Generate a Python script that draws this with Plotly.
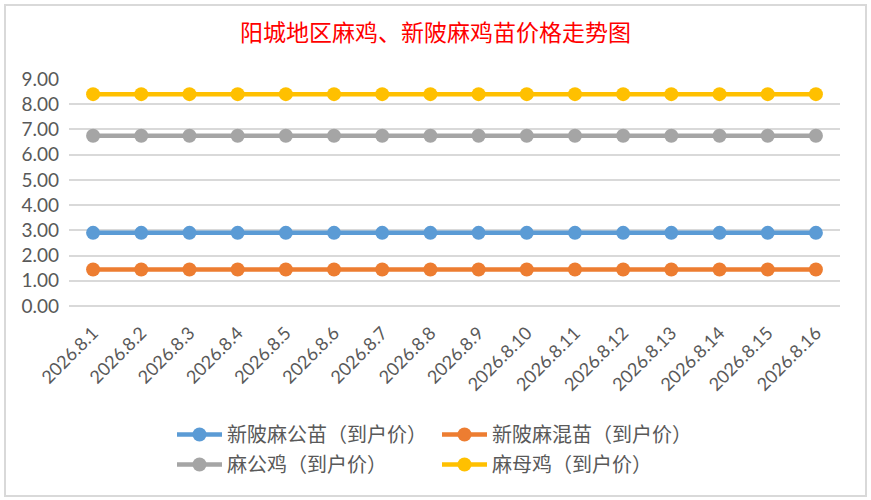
import plotly.graph_objects as go

dates = ["2026.8.%d" % d for d in range(1, 17)]
xin_gong = [2.9] * 16      # 新陂麻公苗（到户价）
xin_hun = [1.45] * 16      # 新陂麻混苗（到户价）
ma_gong = [6.75] * 16      # 麻公鸡（到户价）
ma_mu = [8.4] * 16         # 麻母鸡（到户价）
y_ticks = [0, 1, 2, 3, 4, 5, 6, 7, 8, 9]

series = [
    ("新陂麻公苗（到户价）", xin_gong, "#5B9BD5", "legend"),
    ("新陂麻混苗（到户价）", xin_hun, "#ED7D31", "legend"),
    ("麻公鸡（到户价）", ma_gong, "#A5A5A5", "legend2"),
    ("麻母鸡（到户价）", ma_mu, "#FFC000", "legend2"),
]

fig = go.Figure()
for name, vals, color, lg in series:
    fig.add_trace(go.Scatter(
        x=dates, y=vals, name=name, mode="lines+markers",
        line=dict(color=color, width=4.5),
        marker=dict(color=color, size=14),
        legend=lg,
    ))

font_cjk = "Noto Sans CJK SC, sans-serif"
font_num = "Lato, Open Sans, sans-serif"
PL, PR, PT, PB = 69, 840, 79, 306
PW, PH = PR - PL, PB - PT

def px_x(x):
    return (x - PL) / PW

def px_y(y):
    return (PB - y) / PH

fig.update_layout(
    width=871, height=500,
    paper_bgcolor="white", plot_bgcolor="white",
    margin=dict(l=PL, r=871 - PR, t=PT, b=500 - PB, autoexpand=False),
    title=dict(text="阳城地区麻鸡、新陂麻鸡苗价格走势图", x=0.5, xanchor="center",
               y=1 - 33 / 500, yanchor="middle",
               font=dict(family=font_cjk, size=23, color="#FF0000")),
    xaxis=dict(type="category", range=[-0.5, len(dates) - 0.5],
               showgrid=False, showline=False, ticks="",
               automargin=False, ticklabelstandoff=12,
               tickangle=-45, tickfont=dict(family=font_num, size=18, color="#595959"),
               fixedrange=True),
    yaxis=dict(range=[0, 9], tickvals=y_ticks, tickformat=".2f",
               automargin=False, ticklabelstandoff=9,
               showgrid=True, gridcolor="#D9D9D9", gridwidth=1.5,
               zeroline=True, zerolinecolor="#D9D9D9", zerolinewidth=1.5,
               showline=False, ticks="",
               tickfont=dict(family=font_num, size=19, color="#595959"),
               fixedrange=True),
    legend=dict(orientation="h", x=px_x(172), xanchor="left",
                y=px_y(415), yanchor="top", entrywidth=205, itemwidth=45,
                font=dict(family=font_cjk, size=20, color="#595959"),
                bgcolor="rgba(0,0,0,0)"),
    legend2=dict(orientation="h", x=px_x(172), xanchor="left",
                 y=px_y(445), yanchor="top", entrywidth=205, itemwidth=45,
                 font=dict(family=font_cjk, size=20, color="#595959"),
                 bgcolor="rgba(0,0,0,0)"),
    shapes=[dict(type="rect", xref="paper", yref="paper",
                 x0=px_x(5), x1=px_x(866),
                 y0=px_y(496), y1=px_y(5),
                 line=dict(color="#D9D9D9", width=2), layer="below")],
    showlegend=True,
)

fig.write_html("out.html", config={"displayModeBar": False},
               post_script="document.body.style.margin='0';document.body.style.overflow='hidden';")
